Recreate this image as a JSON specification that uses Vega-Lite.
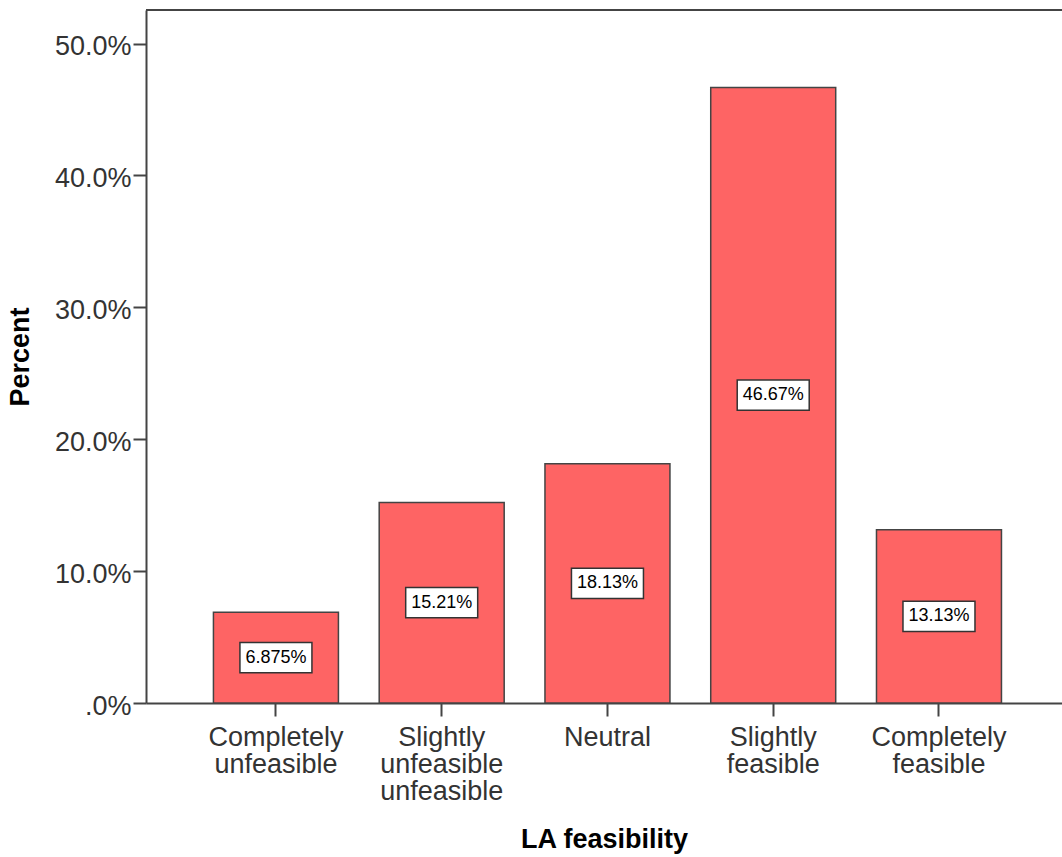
{
  "$schema": "https://vega.github.io/schema/vega-lite/v6.json",
  "width": 916,
  "height": 693,
  "autosize": {"type": "none"},
  "padding": {"left": 146, "top": 10, "right": 0, "bottom": 154},
  "background": "white",
  "config": {
    "view": {"stroke": null},
    "font": "Liberation Sans, Arial, sans-serif",
    "axis": {
      "domainColor": "#444",
      "domainWidth": 2,
      "tickColor": "#444",
      "tickWidth": 2,
      "tickSize": 13,
      "labelColor": "#333",
      "labelFont": "Liberation Sans",
      "labelFontSize": 27,
      "titleFont": "Liberation Sans",
      "titleFontSize": 27,
      "titleFontWeight": "bold",
      "titleColor": "#000",
      "grid": false
    }
  },
  "data": {
    "values": [
      {"category": "Completely unfeasible", "pct": 6.875, "label": "6.875%"},
      {"category": "Slightly unfeasible unfeasible", "pct": 15.21, "label": "15.21%"},
      {"category": "Neutral", "pct": 18.13, "label": "18.13%"},
      {"category": "Slightly feasible", "pct": 46.67, "label": "46.67%"},
      {"category": "Completely feasible", "pct": 13.13, "label": "13.13%"}
    ]
  },
  "transform": [{"calculate": "datum.pct / 2", "as": "mid"}],
  "encoding": {
    "x": {
      "field": "category",
      "type": "nominal",
      "sort": null,
      "scale": {"paddingInner": 0.246, "paddingOuter": 0.386, "align": 0.527},
      "axis": {
        "title": "LA feasibility",
        "labelAngle": 0,
        "labelPadding": 8,
        "labelLineHeight": 27,
        "labelExpr": "split(datum.label, ' ')",
        "titlePadding": 22
      }
    }
  },
  "layer": [
    {
      "mark": {"type": "rule", "color": "#444", "strokeWidth": 2},
      "encoding": {"x": null, "y": {"datum": 52.54, "type": "quantitative"}}
    },
    {
      "mark": {"type": "bar", "color": "#fe6464", "stroke": "#444", "strokeWidth": 1.5},
      "encoding": {
        "y": {
          "field": "pct",
          "type": "quantitative",
          "scale": {"domain": [0, 52.54], "nice": false},
          "axis": {
            "title": "Percent",
            "values": [0, 10, 20, 30, 40, 50],
            "labelExpr": "datum.value == 0 ? '.0%' : format(datum.value, '.1f') + '%'",
            "labelPadding": 2,
            "labelOffset": 3,
            "titlePadding": 20
          }
        }
      }
    },
    {
      "mark": {
        "type": "point",
        "shape": "M-1,-0.42H1V0.42H-1Z",
        "size": 5184,
        "filled": true,
        "fill": "white",
        "stroke": "#333",
        "strokeWidth": 1.5,
        "opacity": 1
      },
      "encoding": {"y": {"field": "mid", "type": "quantitative"}}
    },
    {
      "mark": {"type": "text", "fontSize": 18, "color": "#000", "baseline": "middle", "font": "Liberation Sans"},
      "encoding": {
        "y": {"field": "mid", "type": "quantitative"},
        "text": {"field": "label"}
      }
    }
  ]
}
